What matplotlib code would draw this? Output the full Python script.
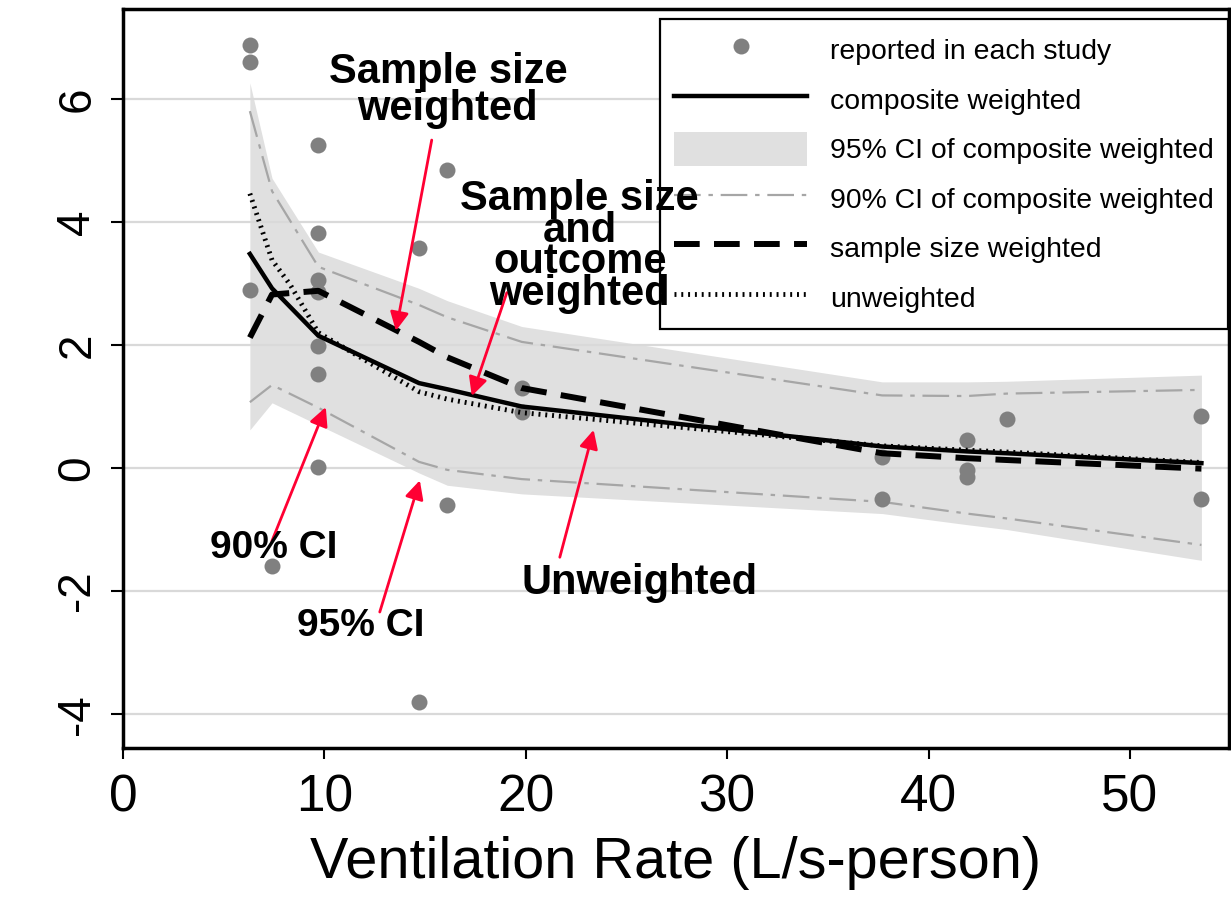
import matplotlib
matplotlib.use("Agg")
import matplotlib.pyplot as plt
from matplotlib.lines import Line2D
from matplotlib.patches import Patch

# ---------------- data ----------------
study_x = [6.3, 6.3, 6.3, 7.4, 9.7, 9.7, 9.7, 9.7, 9.7, 9.7, 9.7,
           14.7, 14.7, 16.1, 16.1, 19.8, 19.8,
           37.7, 37.7, 41.9, 41.9, 41.9, 43.9, 53.55, 53.55]
study_y = [6.88, 6.6, 2.9, -1.59, 5.25, 3.82, 3.06, 2.86, 1.98, 1.53, 0.02,
           3.58, -3.8, 4.85, -0.6, 1.3, 0.91,
           0.18, -0.5, 0.46, -0.04, -0.14, 0.8, 0.85, -0.5]

vent = [6.3, 7.4, 9.7, 14.7, 16.1, 19.8, 37.7, 41.9, 43.9, 53.55]
composite = [3.48, 2.92, 2.15, 1.38, 1.28, 1.0, 0.35, 0.27, 0.24, 0.08]
ci95_upper = [6.26, 4.71, 3.51, 2.92, 2.72, 2.3, 1.4, 1.4, 1.41, 1.51]
ci95_lower = [0.62, 1.06, 0.7, -0.08, -0.28, -0.42, -0.74, -0.92, -1.0, -1.5]
ci90_upper = [5.8, 4.5, 3.27, 2.65, 2.45, 2.05, 1.18, 1.17, 1.21, 1.27]
ci90_lower = [1.07, 1.35, 0.98, 0.1, -0.03, -0.18, -0.55, -0.74, -0.82, -1.25]
sample_weighted = [2.12, 2.82, 2.88, 2.05, 1.8, 1.3, 0.24, 0.16, 0.13, -0.01]

vent_unw = [6.3, 7.4, 8.3, 9.7, 14.7, 16.1, 19.8, 37.7, 41.9, 43.9, 53.55]
unweighted = [4.46, 3.38, 2.98, 2.2, 1.24, 1.12, 0.9, 0.36, 0.29, 0.26, 0.09]

x_ticks = [0, 10, 20, 30, 40, 50]
y_ticks = [-4, -2, 0, 2, 4, 6]

legend_labels = ["reported in each study", "composite weighted",
                 "95% CI of composite weighted", "90% CI of composite weighted",
                 "sample size weighted", "unweighted"]

# annotations: (text, text_xy, arrow_tail, arrow_head, fontsize, linespacing)
annotations = [
    ("Sample size\nweighted", (16.13, 6.13), (15.33, 5.33), (13.55, 2.23), 30, 0.9),
    ("Sample size\nand\noutcome\nweighted", (22.68, 3.6), (19.06, 2.85), (17.32, 1.17), 30, 0.74),
    ("90% CI", (7.49, -1.30), (7.39, -1.19), (10.07, 0.99), 28, 1.0),
    ("95% CI", (11.81, -2.57), (12.75, -2.34), (14.74, -0.2), 28, 1.0),
    ("Unweighted", (25.66, -1.87), (21.69, -1.45), (23.37, 0.62), 30, 1.0),
]

# ---------------- style ----------------
plt.rcParams['font.family'] = ['Liberation Sans', 'DejaVu Sans']

RED = '#ff0033'
DOT = '#808080'
BAND = '#e0e0e0'
CI90 = '#a6a6a6'

fig = plt.figure(figsize=(12.31, 9.13), dpi=100)
ax = fig.add_axes([123 / 1231, 1 - 748 / 913, (1229 - 123) / 1231, (748 - 9) / 913])

ax.set_xlim(0, 54.92)
ax.set_ylim(-4.55, 7.46)

# grid
for yv in y_ticks:
    ax.axhline(yv, color='#d9d9d9', lw=1.6, zorder=1.5)

ax.fill_between(vent, ci95_lower, ci95_upper, color=BAND, lw=0, zorder=1)
ax.plot(vent, ci90_upper, color=CI90, lw=1.6, ls=(0, (12, 3.5, 2, 3.5)), zorder=2)
ax.plot(vent, ci90_lower, color=CI90, lw=1.6, ls=(0, (12, 3.5, 2, 3.5)), zorder=2)
ax.plot(study_x, study_y, 'o', color=DOT, ms=11.5, mec='none', zorder=3)
ax.plot(vent_unw, unweighted, color='black', lw=3.5, ls=(0, (0.4, 1.0)),
        dash_capstyle='butt', zorder=4)
ax.plot(vent, sample_weighted, color='black', lw=4.3, ls=(0, (4.3, 2.4)),
        dash_capstyle='butt', zorder=4)
ax.plot(vent, composite, color='black', lw=3.2, zorder=5)

for text, txy, tail, head, fs, lsp in annotations:
    ax.annotate('', xy=head, xytext=tail,
                arrowprops=dict(arrowstyle='-|>', color=RED, lw=2.0,
                                mutation_scale=28, shrinkA=0, shrinkB=0),
                zorder=6)
    ax.text(txy[0], txy[1], text, fontsize=fs, fontweight='bold', ha='center',
            va='center', multialignment='center', linespacing=lsp, zorder=12)

# axes style
for side in ['left', 'bottom', 'top', 'right']:
    ax.spines[side].set_linewidth(2.5)
    ax.spines[side].set_color('black')
ax.set_xticks(x_ticks)
ax.set_yticks(y_ticks)
ax.set_xticklabels([str(v) for v in x_ticks], fontsize=37)
ax.set_yticklabels([str(v) for v in y_ticks], fontsize=33, rotation=90,
                   va='center')
ax.tick_params(axis='x', length=8, width=1.5, pad=10, direction='out')
ax.tick_params(axis='y', length=9, width=1.5, pad=8, direction='out')
ax.set_xlabel("Ventilation Rate (L/s-person)", fontsize=41.5, labelpad=10)

handles = [
    Line2D([], [], ls='none', marker='o', color=DOT, ms=11.5, mec='none'),
    Line2D([], [], color='black', lw=3.2),
    Patch(facecolor=BAND, edgecolor='none'),
    Line2D([], [], color=CI90, lw=1.6, ls=(0, (12, 3.5, 2, 3.5))),
    Line2D([], [], color='black', lw=4.3, ls=(0, (4.3, 2.4)), dash_capstyle='butt'),
    Line2D([], [], color='black', lw=3.5, ls=(0, (0.4, 1.0)), dash_capstyle='butt'),
]
leg = ax.legend(handles, legend_labels, loc='upper right',
                bbox_to_anchor=(0.9991, 0.9865), borderaxespad=0,
                fontsize=20.4, frameon=True, fancybox=False, framealpha=1,
                edgecolor='black', handlelength=4.7, handleheight=1.45,
                handletextpad=0.8, labelspacing=0.56, borderpad=0.5,
                numpoints=1)
leg.get_frame().set_linewidth(1.6)
leg.set_zorder(10)

fig.savefig('out.png', dpi=100)
